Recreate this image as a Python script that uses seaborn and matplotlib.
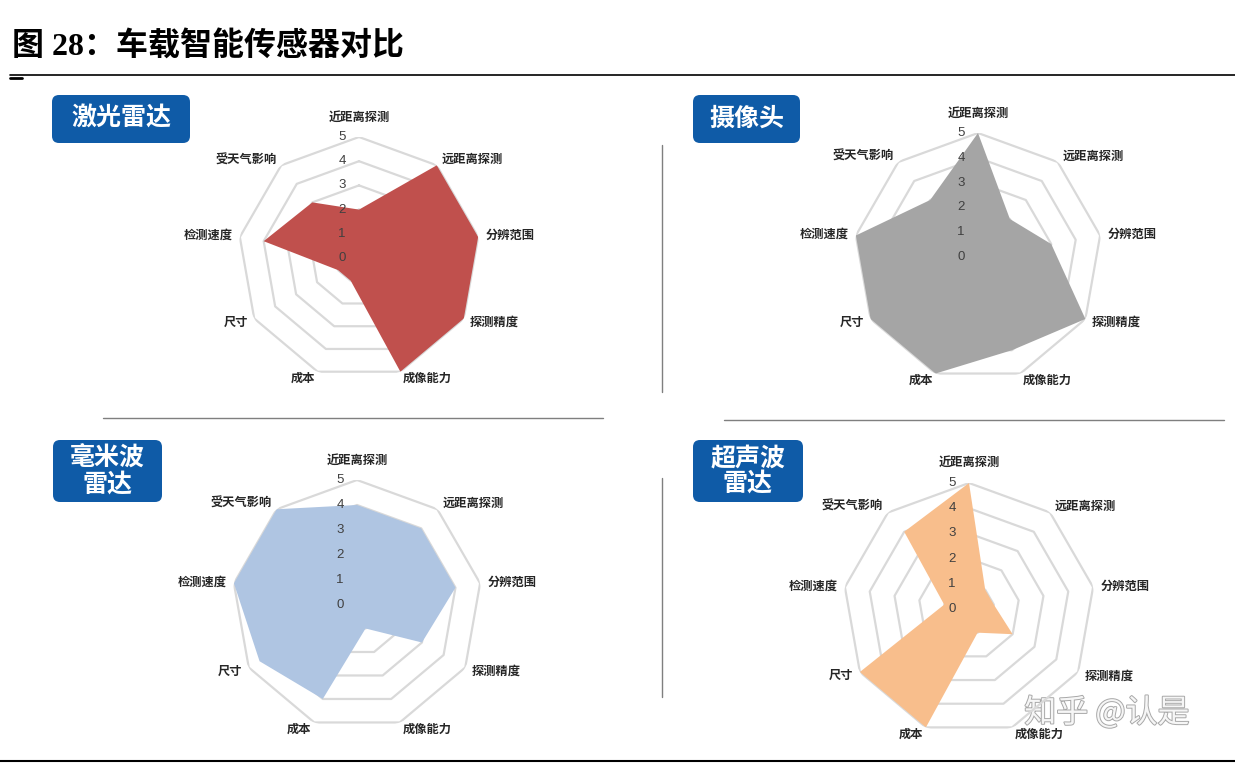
import numpy as np
import matplotlib
matplotlib.use('Agg')
import matplotlib.pyplot as plt
import matplotlib.patheffects as pe
from matplotlib.patches import FancyBboxPatch
from matplotlib.transforms import ScaledTranslation
import seaborn as sns

categories = ['近距离探测', '远距离探测', '分辨范围', '探测精度', '成像能力',
              '成本', '尺寸', '检测速度', '受天气影响']
lidar = [2, 5, 5, 5, 5, 1, 1, 4, 3]
camera = [5, 2, 3, 5, 4, 5, 5, 5, 3]
mmwave = [4, 4, 4, 3, 1, 4, 4.5, 5, 5]
ultrasonic = [5, 1, 1, 2, 1, 5, 5, 1, 4]
sensor_names = ['激光雷达', '摄像头', '毫米波\n雷达', '超声波\n雷达']
radial_ticks = [0, 1, 2, 3, 4, 5]
title = '图 28：车载智能传感器对比'
watermark = '知乎 @认是'

sns.set_theme(style='white')
plt.rcParams['font.family'] = ['Noto Sans CJK SC', 'DejaVu Sans']

W, H = 1235, 763
colors = ['#C0504D', '#A5A5A5', '#AFC5E2', '#F8BE8C']
# panel layout in pixels: radar centre, radius, badge box
panels = [
    dict(c=(359, 258), R=121, badge=(52, 95, 138, 48)),
    dict(c=(978, 257), R=124, badge=(693, 95, 107, 48)),
    dict(c=(357, 605), R=125, badge=(53, 440, 109, 62)),
    dict(c=(969, 609), R=126, badge=(693, 440, 110, 62)),
]
series = [lidar, camera, mmwave, ultrasonic]

fig = plt.figure(figsize=(W / 100, H / 100), dpi=100)
over = fig.add_axes([0, 0, 1, 1])
over.set_xlim(0, W)
over.set_ylim(H, 0)
over.axis('off')

# title and rules
over.text(12, 46, title, fontsize=23, fontweight='bold', va='center', ha='left',
          family=['Liberation Serif', 'Noto Sans CJK SC'], color='black')
over.plot([10, W], [75, 75], color='black', lw=1.2)
over.plot([10, 22], [77.5, 77.5], color='black', lw=2)
over.plot([0, W], [761, 761], color='black', lw=1.5)

# dividers
over.plot([103, 603], [418, 418], color='#7f7f7f', lw=1)
over.plot([724, 1224], [420, 420], color='#7f7f7f', lw=1)
over.plot([662, 662], [145, 392], color='#7f7f7f', lw=1)
over.plot([662, 662], [478, 697], color='#7f7f7f', lw=1)

angles = np.linspace(0, 2 * np.pi, len(categories), endpoint=False)
closed = np.append(angles, angles[0])

for p, vals, col, name in zip(panels, series, colors, sensor_names):
    cx, cy = p['c']
    R = p['R']
    ax = fig.add_axes([(cx - R) / W, 1 - (cy + R) / H, 2 * R / W, 2 * R / H],
                      projection='polar')
    ax.set_theta_zero_location('N')
    ax.set_theta_direction(-1)
    ax.set_ylim(0, 5)
    ax.axis('off')

    for k in radial_ticks[1:]:
        ax.plot(closed, [k] * len(closed), color='#D9D9D9', lw=1.6, zorder=1)

    v = np.append(vals, vals[0])
    ax.fill(closed, v, color=col, zorder=2, lw=0)

    off = ScaledTranslation(-17 / 100, 0, fig.dpi_scale_trans)
    for t in radial_ticks:
        ax.text(0, t, str(t), transform=ax.transData + off, ha='center', va='center',
                fontsize=9.5, color='#404040', family='Liberation Sans', zorder=3)

    for a, lab in zip(angles, categories):
        s, c = np.sin(a), np.cos(a)
        if abs(s) < 0.1:
            ha, va, r = 'center', 'bottom', 5.55
        else:
            ha, va, r = ('left' if s > 0 else 'right'), 'center', 5.3
        ax.text(a, r, lab, ha=ha, va=va, fontsize=8.8, fontweight='bold',
                color='#262626', zorder=3)

    bx, by, bw, bh = p['badge']
    over.add_patch(FancyBboxPatch((bx, by), bw, bh,
                                  boxstyle='round,pad=0,rounding_size=7',
                                  fc='#0F5BA7', ec='none'))
    over.text(bx + bw / 2, by + bh / 2, name, ha='center', va='center',
              fontsize=18, fontweight='bold', color='white', linespacing=1.1)

over.text(1107, 713, watermark, ha='center', va='center', fontsize=23,
          color='#f6f6f6',
          path_effects=[pe.withStroke(linewidth=1.4, foreground='#a8a8a8')])

fig.savefig('out.png', dpi=100)
